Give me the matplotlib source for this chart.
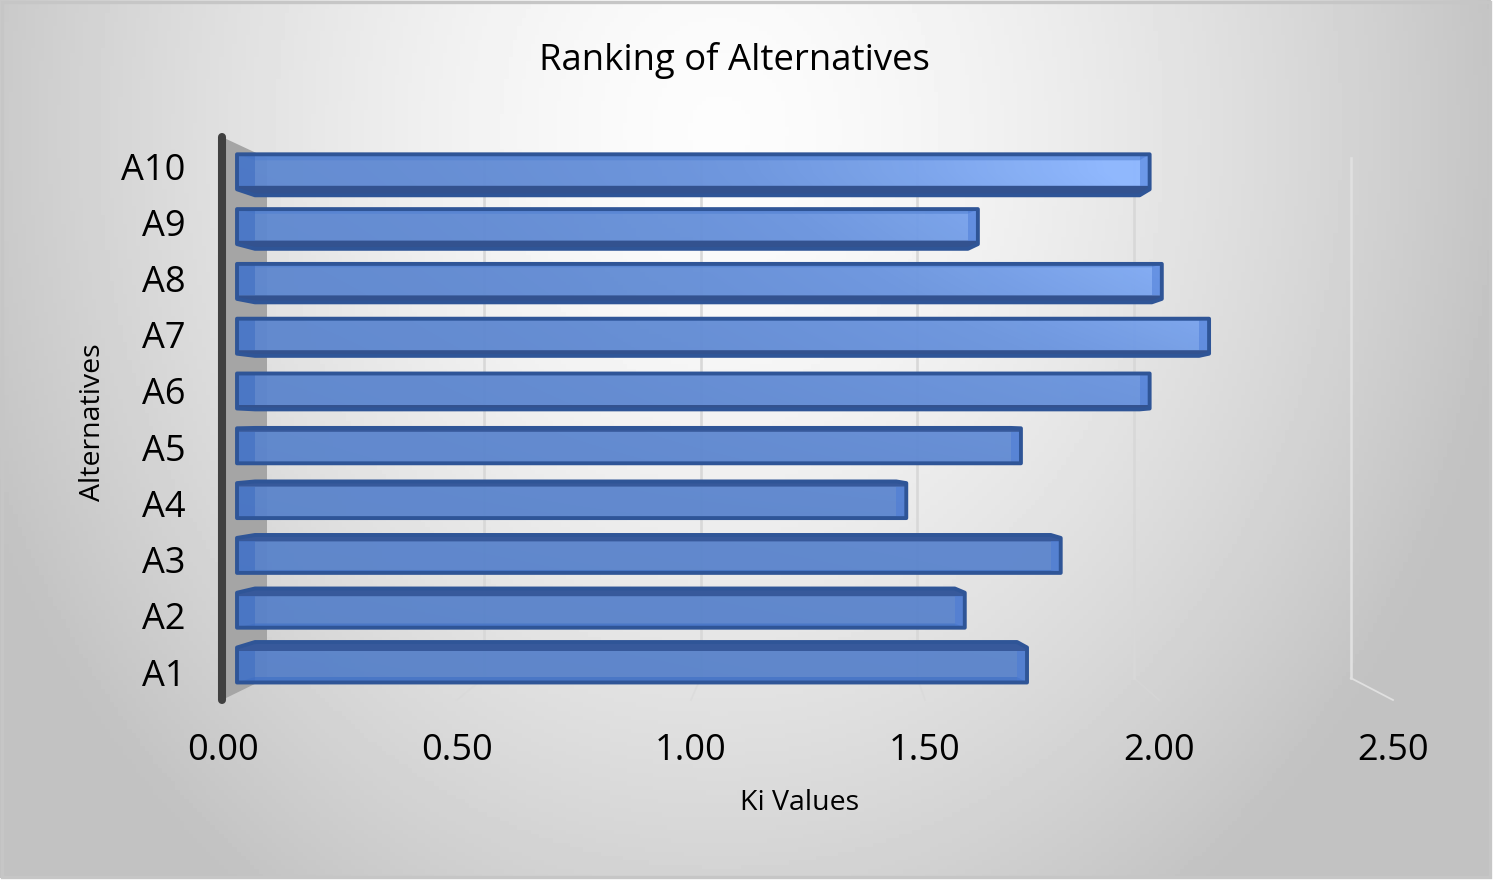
import numpy as np
import matplotlib
matplotlib.use("Agg")
import matplotlib.pyplot as plt
from matplotlib.colors import LinearSegmentedColormap
from matplotlib.patches import Polygon

alternatives = ["A1", "A2", "A3", "A4", "A5", "A6", "A7", "A8", "A9", "A10"]
ki_values = [1.718, 1.585, 1.790, 1.460, 1.705, 1.980, 2.107, 2.006, 1.613, 1.980]
x_ticks = [0.0, 0.5, 1.0, 1.5, 2.0, 2.5]

W, H = 1501, 891
FONT = "Open Sans"
plt.rcParams["font.family"] = [FONT, "DejaVu Sans"]
fig = plt.figure(figsize=(W / 100, H / 100), dpi=100, facecolor="white")

# ---------- background layer, in pixels ----------
bg = fig.add_axes([0, 0, 1, 1], zorder=0)
bg.set_xlim(0, W); bg.set_ylim(H, 0); bg.axis("off")
CW, CH = 1491, 878
yy, xx = np.mgrid[0:CH:200j, 0:CW:340j]
r = np.sqrt(((xx - 720) / 800) ** 2 + ((yy - 130) / 950) ** 2)
gray = np.clip(0.99 - 0.23 * r ** 1.5, 0.76, 1)
bg.imshow(gray, cmap="gray", vmin=0, vmax=1, extent=(0, CW, CH, 0), aspect="auto", zorder=0)
bg.set_xlim(0, W); bg.set_ylim(H, 0)
bg.add_patch(plt.Rectangle((1.5, 1.5), CW - 3, CH - 3, fill=False, ec="#c6c6c6", lw=2.4, zorder=1))

X0_FRONT, X_FRONT = 223, 468.0
X0_WALL, X_WALL = 267, 433.5
WALL_TOP, WALL_BOT = 158, 678
AX_TOP, AX_BOT = 137, 700

bg.add_patch(Polygon([(222, AX_TOP), (X0_WALL, WALL_TOP), (X0_WALL, WALL_BOT), (222, AX_BOT)],
                     fc="#a5a5a5", ec="none", zorder=2))
for v in x_ticks[1:]:
    xb = X0_WALL + X_WALL * v
    xf = X0_FRONT + X_FRONT * v
    c = "#d8d8d8" if v < 2.4 else "#e0e0e0"
    bg.plot([xb, xb], [WALL_TOP, WALL_BOT], color=c, lw=1.9, zorder=2)
    bg.plot([xb, xf], [WALL_BOT, AX_BOT], color=c, lw=1.3,
            alpha=0.55 if v < 2.4 else 1.0, zorder=2)
bg.plot([222, 222], [AX_TOP, AX_BOT], color="#404040", lw=5.8, solid_capstyle="round", zorder=3)

# ---------- bars ----------
ax_left, ax_right = X0_FRONT, X0_FRONT + 2.5 * X_FRONT
PY = 54.8
y_bot_px, y_top_px = 665 + PY, 665 - 10 * PY
rect = [ax_left / W, 1 - y_bot_px / H, (ax_right - ax_left) / W, (y_bot_px - y_top_px) / H]
ax = fig.add_axes(rect, zorder=2)
ax.patch.set_alpha(0)
for s in ax.spines.values():
    s.set_visible(False)

dx = 1 / X_FRONT
dy = 1 / PY
gy, gx = np.mgrid[0:1:60j, 0:1:100j]   # gy 0 = top row
grad = np.clip(gx / 0.85, 0, 1) ** 2 * np.clip(1.15 - gy * 1.7, 0, 1) + 0.10 * gx + 0.25 * (1 - gy)
cmap = LinearSegmentedColormap.from_list("face", ["#5881c8", "#6a94de", "#8cb6ff"])

for i, val in enumerate(ki_values):
    hh = 17.5 * dy
    x0, x1 = 14 * dx, val
    xb0, xb1 = x0 + 18 * dx, x1 - 10 * dx
    ft, fb = i + hh, i - hh
    sh = -0.0233 * (i - 4.3)          # back-face shift
    bt, bb = ft + sh, fb + sh
    if sh < 0:
        silhouette = [(x0, ft), (x1, ft), (x1, fb), (xb1, bb), (xb0, bb), (x0, fb)]
    else:
        silhouette = [(x0, ft), (xb0, bt), (xb1, bt), (x1, ft), (x1, fb), (x0, fb)]
    face_clip = Polygon(silhouette, transform=ax.transData, fc="none", ec="none")
    ax.add_patch(face_clip)
    im = ax.imshow(grad, cmap=cmap, vmin=0, vmax=1.1, extent=(0, 2.5, -1, 10), origin="upper",
                   aspect="auto", alpha=0.96, zorder=3, interpolation="bilinear")
    im.set_clip_path(face_clip)

    s_abs = abs(sh)
    band = 3.5 * dy
    if sh < 0:   # dark underside
        ax.add_patch(Polygon([(x0, fb + band), (x1, fb + band), (x1, fb), (xb1, bb), (xb0, bb), (x0, fb)],
                             fc="#33528f", ec="none", zorder=4))
        ax.add_patch(Polygon([(x0, ft), (x1, ft), (xb1, ft - s_abs), (xb0, ft - s_abs)],
                             fc="#4f7fd2", alpha=0.55, ec="none", zorder=4))
    else:        # dark top
        ax.add_patch(Polygon([(x0, ft), (xb0, bt), (xb1, bt), (x1, ft), (x1, ft - band), (x0, ft - band)],
                             fc="#37599b", ec="none", zorder=4))
        ax.add_patch(Polygon([(x0, fb), (x1, fb), (xb1, fb + s_abs), (xb0, fb + s_abs)],
                             fc="#4574c6", alpha=0.8, ec="none", zorder=4))
    top_in = ft - band if sh >= 0 else ft
    bot_in = fb + band if sh < 0 else fb
    ax.add_patch(Polygon([(x0, top_in), (xb0, top_in), (xb0, bot_in), (x0, bot_in)],
                         fc="#3f6ec2", alpha=0.6, ec="none", zorder=4))
    ax.add_patch(Polygon([(xb1, top_in), (x1, top_in), (x1, bot_in), (xb1, bot_in)],
                         fc="#4a7ad6", alpha=0.5, ec="none", zorder=4))
    ax.add_patch(Polygon(silhouette, fc="none", ec="#2f5597", lw=2.8, joinstyle="round", zorder=5))

ax.set_xlim(0, 2.5)
ax.set_ylim(-1, 10)
ax.set_yticks([])
ax.set_xticks(x_ticks)
ax.set_xticklabels([f"{v:.2f}" for v in x_ticks], fontsize=26, color="black")
ax.tick_params(axis="x", length=0, pad=9.6)
ax.set_xlabel("Ki Values", fontsize=20.5, color="black")
ax.xaxis.set_label_coords((800 - ax_left) / (ax_right - ax_left),
                          -(803 - y_bot_px) / (y_bot_px - y_top_px), transform=ax.transAxes)
ax.xaxis.label.set_verticalalignment("center")
ax.set_title("Ranking of Alternatives", fontsize=26.3, color="black",
             x=(734 - ax_left) / (ax_right - ax_left),
             y=(y_bot_px - 69) / (y_bot_px - y_top_px), va="center")

# ---------- category labels on their own (front-plane) scale ----------
lab = fig.add_axes(rect, zorder=3)
lab.patch.set_alpha(0)
for s in lab.spines.values():
    s.set_visible(False)
lab.set_xlim(0, 2.5)
lab.set_xticks([])
LP = 56.2
lab.set_ylim((672 - y_bot_px) / LP, (672 - y_top_px) / LP)
lab.set_yticks(range(len(alternatives)))
lab.set_yticklabels(alternatives, fontsize=26, color="black")
lab.tick_params(axis="y", length=0, pad=27)
lab.set_ylabel("Alternatives", fontsize=20.5, color="black")
lab.yaxis.set_label_coords((93 - ax_left) / (ax_right - ax_left),
                           (y_bot_px - 422) / (y_bot_px - y_top_px), transform=lab.transAxes)
lab.yaxis.label.set_verticalalignment("center")

fig.savefig("out.png", dpi=100, facecolor="white")
